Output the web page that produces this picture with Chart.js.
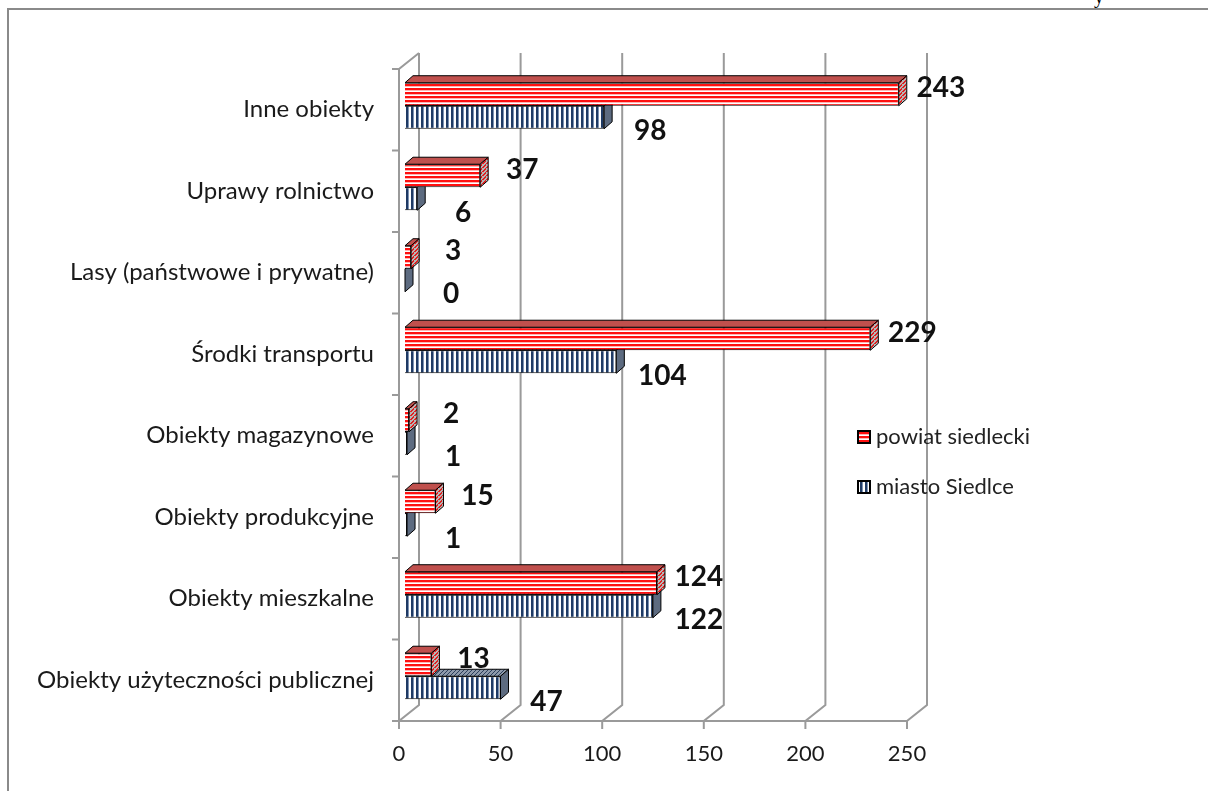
<!DOCTYPE html>
<html>
<head>
<meta charset="utf-8">
<script src="https://cdn.jsdelivr.net/npm/chart.js@4.4.0/dist/chart.umd.min.js"></script>
<style>
  body { margin: 0; background: #fff; overflow: hidden; }
  #wrap { position: relative; width: 1208px; height: 791px; }
  #ramka { position: absolute; left: 7px; top: 8px; width: 1400px; height: 1000px; border: 2px solid #8a8a8a; }
  #kawalek { position: absolute; left: 1094px; top: -15px; font: 20px "Liberation Serif"; color: #000; }
  canvas { position: absolute; left: 0; top: 0; }
</style>
</head>
<body>
<div id="wrap">
  <div id="ramka"></div>
  <div id="kawalek">y</div>
  <canvas id="wykres" width="1208" height="791"></canvas>
</div>
<script>
var kategorie = [
  "Inne obiekty",
  "Uprawy rolnictwo",
  "Lasy (państwowe i prywatne)",
  "Środki transportu",
  "Obiekty magazynowe",
  "Obiekty produkcyjne",
  "Obiekty mieszkalne",
  "Obiekty użyteczności publicznej",
];
var powiat_siedlecki = [243, 37, 3, 229, 2, 15, 124, 13];
var miasto_siedlce = [98, 6, 0, 104, 1, 1, 122, 47];
var ticki_x = [0, 50, 100, 150, 200, 250];

var GLEB_X = 20, GLEB_Y = 16;   // glebokosc scian
var BAR_DX = 8, BAR_DY = 7;     // glebokosc slupka
var PRZES_X = 6, PRZES_Y = -4;  // przesuniecie slupkow w glab
var FONT = "Lato";

function wzor(w, h, rysuj) {
  var c = document.createElement("canvas");
  c.width = w;
  c.height = h;
  var g = c.getContext("2d");
  rysuj(g);
  return document.getElementById("wykres").getContext("2d").createPattern(c, "repeat");
}

var wzor_czerwony = wzor(4, 4, function (g) {
  g.fillStyle = "#ffffff"; g.fillRect(0, 0, 4, 4);
  g.fillStyle = "#ff1010"; g.fillRect(0, 0, 4, 2);
  g.fillStyle = "#ffb4b4"; g.fillRect(0, 2, 4, 1);
});
var wzor_niebieski = wzor(5, 5, function (g) {
  g.fillStyle = "#ffffff"; g.fillRect(0, 0, 5, 5);
  g.fillStyle = "#1f3a64"; g.fillRect(0, 0, 2, 5);
  g.fillStyle = "#7d93b4"; g.fillRect(2, 0, 1, 5);
});
var wzor_czerw_bok = wzor(4, 4, function (g) {
  g.fillStyle = "#b7b7b7"; g.fillRect(0, 0, 4, 4);
  g.fillStyle = "#e02020";
  for (var i = 0; i < 4; i++) g.fillRect(i, 3 - i, 1, 2);
});
var wzor_nieb_gora = wzor(4, 4, function (g) {
  g.fillStyle = "#8e9aab"; g.fillRect(0, 0, 4, 4);
  g.fillStyle = "#2b3f5c";
  for (var i = 0; i < 4; i++) g.fillRect(i, 3 - i, 1, 1);
});

var sciany = {
  // kolor twarzy gornej i bocznej
  0: { gora: "#c0504d", bok: wzor_czerw_bok },
  1: { gora: wzor_nieb_gora, bok: "#5d6b80" },
};

var plugin3d = {
  id: "plugin3d",
  beforeDatasetsDraw: function (chart) {
    var ctx = chart.ctx;
    var a = chart.chartArea;
    var sx = chart.scales.x;
    ctx.save();
    ctx.strokeStyle = "#9a9a9a";
    ctx.lineWidth = 2;
    ctx.beginPath();
    ticki_x.forEach(function (v) {
      var px = sx.getPixelForValue(v);
      ctx.moveTo(px + GLEB_X, a.top - GLEB_Y);
      ctx.lineTo(px + GLEB_X, a.bottom - GLEB_Y);
      ctx.lineTo(px, a.bottom);
      ctx.lineTo(px, a.bottom + 8);
    });
    ctx.moveTo(a.left - 7, a.bottom);
    ctx.lineTo(a.right, a.bottom);
    ctx.moveTo(a.left, a.bottom);
    ctx.lineTo(a.left, a.top);
    ctx.lineTo(a.left + GLEB_X, a.top - GLEB_Y);
    var krok = (a.bottom - a.top) / kategorie.length;
    for (var i = 0; i <= kategorie.length; i++) {
      ctx.moveTo(a.left - 7, a.top + i * krok);
      ctx.lineTo(a.left, a.top + i * krok);
    }
    ctx.stroke();
    ctx.restore();

    ctx.save();
    ctx.translate(PRZES_X, PRZES_Y);
  },
  beforeDatasetDraw: function (chart, args) {
    var ctx = chart.ctx;
    var kol = sciany[args.index];
    var meta = chart.getDatasetMeta(args.index);
    ctx.save();
    ctx.strokeStyle = "#000";
    ctx.lineWidth = 1;
    meta.data.forEach(function (el) {
      var p = el.getProps(["x", "y", "base", "height"], true);
      var x0 = p.base, x1 = p.x;
      var y0 = p.y - p.height / 2, y1 = p.y + p.height / 2;
      ctx.beginPath();
      ctx.moveTo(x0, y0);
      ctx.lineTo(x0 + BAR_DX, y0 - BAR_DY);
      ctx.lineTo(x1 + BAR_DX, y0 - BAR_DY);
      ctx.lineTo(x1, y0);
      ctx.closePath();
      ctx.fillStyle = kol.gora;
      ctx.fill();
      ctx.stroke();
      ctx.beginPath();
      ctx.moveTo(x1, y0);
      ctx.lineTo(x1 + BAR_DX, y0 - BAR_DY);
      ctx.lineTo(x1 + BAR_DX, y1 - BAR_DY);
      ctx.lineTo(x1, y1);
      ctx.closePath();
      ctx.fillStyle = kol.bok;
      ctx.fill();
      ctx.stroke();
    });
    ctx.restore();
  },
  afterDatasetsDraw: function (chart) {
    var ctx = chart.ctx;
    ctx.restore();
    ctx.save();
    ctx.font = "bold 28px " + FONT;
    ctx.fillStyle = "#111";
    ctx.textAlign = "center";
    ctx.textBaseline = "middle";
    chart.data.datasets.forEach(function (ds, di) {
      var meta = chart.getDatasetMeta(di);
      meta.data.forEach(function (el, i) {
        var p = el.getProps(["x", "y"], true);
        var dx = di == 0 ? 42 : 46;
        var dy = di == 0 ? -6 : 14;
        ctx.fillText(ds.data[i], p.x + PRZES_X + dx, p.y + PRZES_Y + dy);
      });
    });
    ctx.restore();
  },
  afterDraw: function (chart) {
    var ctx = chart.ctx;
    ctx.save();
    ctx.font = "22px " + FONT;
    ctx.textBaseline = "middle";
    chart.data.datasets.forEach(function (ds, di) {
      var y = 437 + di * 50;
      ctx.fillStyle = ds.backgroundColor;
      ctx.fillRect(858, y - 6, 12, 12);
      ctx.strokeStyle = "#000";
      ctx.lineWidth = 2;
      ctx.strokeRect(858, y - 6, 12, 12);
      ctx.fillStyle = "#222";
      ctx.fillText(ds.label, 876, y);
    });
    ctx.restore();
  },
};

var dane_wykresu = {
  type: "bar",
  data: {
    labels: kategorie,
    datasets: [
      {
        label: "powiat siedlecki",
        data: powiat_siedlecki,
        backgroundColor: wzor_czerwony,
        borderColor: "#000",
        borderWidth: 1,
      },
      {
        label: "miasto Siedlce",
        data: miasto_siedlce,
        backgroundColor: wzor_niebieski,
        borderColor: "#000",
        borderWidth: 1,
      },
    ],
  },
  options: {
    indexAxis: "y",
    responsive: false,
    animation: false,
    categoryPercentage: 0.565,
    barPercentage: 1,
    layout: {
      padding: { left: 0, right: 301, top: 69, bottom: 0 },
    },
    plugins: {
      legend: { display: false },
      tooltip: { enabled: false },
    },
    scales: {
      x: {
        min: 0,
        max: 250,
        grid: { display: false },
        border: { display: false },
        afterFit: function (s) { s.height = 70; },
        afterBuildTicks: function (s) {
          s.ticks = ticki_x.map(function (v) { return { value: v }; });
        },
        ticks: {
          padding: 12,
          color: "#1a1a1a",
          font: { family: FONT, size: 22 },
        },
      },
      y: {
        grid: { display: false },
        border: { display: false },
        afterFit: function (s) { s.width = 399; },
        ticks: {
          padding: 17,
          color: "#1a1a1a",
          font: { family: FONT, size: 24 },
        },
      },
    },
  },
  plugins: [plugin3d],
};

var ctx = document.getElementById("wykres");
var wykres = new Chart(ctx, dane_wykresu);
</script>
</body>
</html>
